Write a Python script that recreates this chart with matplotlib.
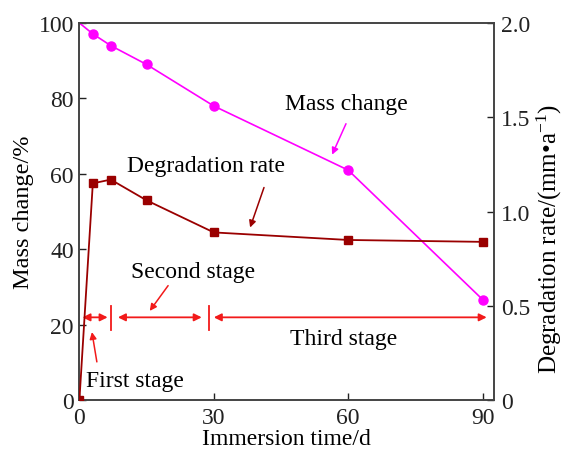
import matplotlib
matplotlib.use('Agg')
import matplotlib.pyplot as plt

plt.rcParams['font.family'] = ['Liberation Serif', 'DejaVu Serif']
plt.rcParams['mathtext.fontset'] = 'custom'
plt.rcParams['mathtext.rm'] = 'Liberation Serif'
plt.rcParams['mathtext.it'] = 'Liberation Serif:italic'

# Data
days = [0, 3, 7, 15, 30, 60, 90]
mass_change = [100, 97.1, 94.0, 89.0, 78.0, 61.0, 26.7]      # %
degr_rate = [0.0, 1.15, 1.17, 1.06, 0.89, 0.85, 0.84]        # mm/a

MAG = '#ff00ff'
DRED = '#9a0000'
RED = '#f21a1a'
FS = 17

fig = plt.figure(figsize=(5.67, 4.52), dpi=100)
ax1 = fig.add_axes([0.140, 0.112, 0.731, 0.835])
ax2 = ax1.twinx()

ax1.plot(days, mass_change, '-', color=MAG, lw=1.2, marker='o', ms=6.5,
         markevery=list(range(1, len(days))), zorder=3)
ax2.plot(days, degr_rate, '-', color=DRED, lw=1.3, marker='s', ms=5.5, zorder=3)

ax1.set_xlim(0, 92.5)
ax1.set_ylim(0, 100)
ax2.set_ylim(0, 2.0)
ax1.set_xticks([0, 30, 60, 90])
ax1.set_yticks([0, 20, 40, 60, 80, 100])
ax2.set_yticks([0, 0.5, 1.0, 1.5, 2.0])
ax2.set_yticklabels(['0', '0.5', '1.0', '1.5', '2.0'])

for ax in (ax1, ax2):
    ax.tick_params(direction='in', length=5, width=1, labelsize=FS, colors='#222222')
    for s in ax.spines.values():
        s.set_color('#444444')
        s.set_linewidth(1.2)
ax1.tick_params(axis='x', pad=5)
ax1.tick_params(axis='y', pad=4)
ax2.tick_params(axis='y', pad=5)

ax1.set_xlabel('Immersion time/d', fontsize=FS, labelpad=0)
ax1.set_ylabel('Mass change/%', fontsize=17.5, labelpad=3)
ax2.set_ylabel('Degradation rate/(mm\u2022a$^{-1}$)', fontsize=18)
ax2.yaxis.set_label_coords(1.1, 0.43)

# Stage markers (left-axis units)
stage_y = 22
ax1.plot([7, 7], [18.7, 25.1], color=RED, lw=1.3)
ax1.plot([29.0, 29.0], [18.7, 25.1], color=RED, lw=1.3)
for x0, x1 in [(0.7, 6.3), (8.6, 27.3), (30.0, 90.9)]:
    ax1.annotate('', xy=(x1, stage_y), xytext=(x0, stage_y),
                 arrowprops=dict(arrowstyle='<|-|>', color=RED, lw=1.3,
                                 mutation_scale=11, shrinkA=0, shrinkB=0))

ax1.text(25.3, 34.1, 'Second stage', fontsize=FS, ha='center', va='center')
ax1.text(12.3, 5.2, 'First stage', fontsize=FS, ha='center', va='center')
ax1.text(58.9, 16.3, 'Third stage', fontsize=FS, ha='center', va='center')
ax1.text(28.3, 62.2, 'Degradation rate', fontsize=FS, ha='center', va='center')
ax1.text(59.5, 78.6, 'Mass change', fontsize=FS, ha='center', va='center')

pointers = [((3.9, 10.2), (2.8, 18.1), RED),
            ((19.8, 30.4), (15.7, 23.7), RED),
            ((59.5, 73.3), (56.4, 65.1), MAG),
            ((41.2, 56.4), (38.1, 45.8), DRED)]
for tail, head, c in pointers:
    ax1.annotate('', xy=head, xytext=tail,
                 arrowprops=dict(arrowstyle='-|>', color=c, lw=1.1,
                                 mutation_scale=10, shrinkA=0, shrinkB=0))

fig.savefig('out.png', dpi=100)
